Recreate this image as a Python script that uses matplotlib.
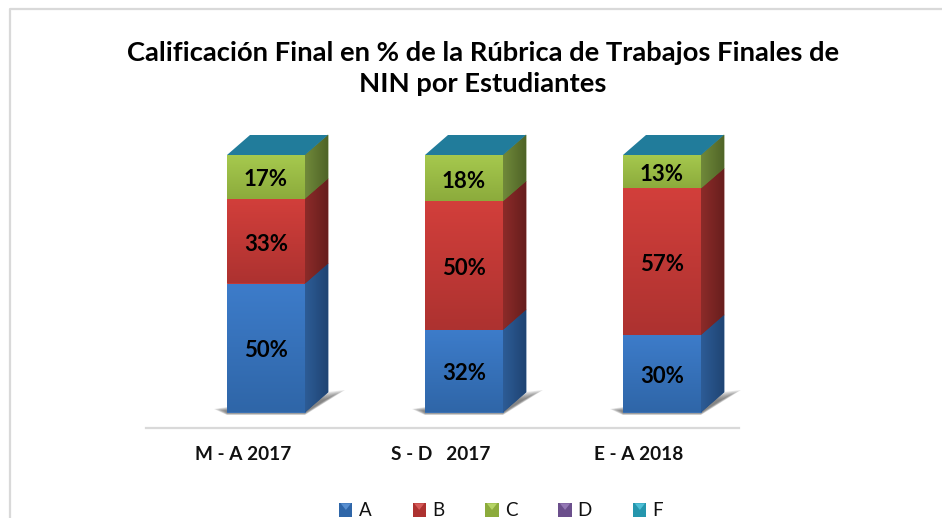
import numpy as np
import matplotlib
matplotlib.use("Agg")
import matplotlib.pyplot as plt
from matplotlib.patches import Polygon, Rectangle
from matplotlib.legend_handler import HandlerPatch
from matplotlib.colors import to_rgb

plt.rcParams['font.family'] = ['Lato', 'DejaVu Sans']

categories = ["M - A 2017", "S - D   2017", "E - A 2018"]
series_names = ["A", "B", "C", "D", "F"]
val_a = [50, 32, 30]
val_b = [33, 50, 57]
val_c = [17, 18, 13]
val_d = [0, 0, 0]
val_f = [0, 0, 0]
title = "Calificación Final en % de la Rúbrica de Trabajos Finales de\nNIN por Estudiantes"

front_top = ["#3d7cca", "#d23f3b", "#a6c94e", "#8064a2", "#31b6d0"]
front_bot = ["#2f66a8", "#ad3230", "#8cab3c", "#6b4f8c", "#2596ad"]
side_light = ["#2d5c96", "#8c2b29", "#70893a", "#594378", "#1f7f93"]
side_dark = ["#1f4473", "#671e1d", "#4f6427", "#3c2c55", "#145866"]
top_color = "#217c9b"

W, H = 942, 518
fig = plt.figure(figsize=(W/100, H/100), dpi=100)
ax = fig.add_axes([0, 0, 1, 1])

px_x, x0 = 198.0, 266.0
px_y, y0 = 2.57, 412.0
ax.set_xlim((0-x0)/px_x, (W-x0)/px_x)
ax.set_ylim((y0-H)/px_y, y0/px_y)
ax.axis('off')

bw = 78/px_x
dx = 23/px_x
dy = 20/px_y


def grad_fill(poly, c0, c1, ext, direction='v', z=2):
    n = 64
    t = np.linspace(0, 1, n)
    a, b = np.array(to_rgb(c0)), np.array(to_rgb(c1))
    g = a[None, :] + (b-a)[None, :]*t[:, None]
    img = g[:, None, :] if direction == 'v' else g[None, :, :]
    ax.add_patch(Polygon(poly, closed=True, fc=tuple((a+b)/2), ec=tuple((a+b)/2), lw=0.6, zorder=z-0.1))
    im = ax.imshow(img, extent=ext, origin='upper', aspect='auto', zorder=z,
                   interpolation='bilinear')
    p = Polygon(poly, closed=True, transform=ax.transData, fc='none', ec='none')
    ax.add_patch(p)
    im.set_clip_path(p)


# frame
fx = lambda p: (p-x0)/px_x
fy = lambda p: (y0-p)/px_y
ax.plot([fx(10), fx(10), fx(941)], [fy(518), fy(9.5), fy(9.5)], color="#d9d9d9", lw=1.6, zorder=1)
# category axis
ax.plot([fx(146), fx(739)], [fy(428), fy(428)], color="#d9d9d9", lw=1.6, zorder=1)

series = [val_a, val_b, val_c]
for i, cat in enumerate(categories):
    l, r = i-bw/2, i+bw/2
    # soft shadow, built up from growing wedges
    for k in range(1, 9):
        e = k/8
        pts = [(l-13*e/px_x, (1+2*e)/px_y), (l, (-0.5-2.5*e)/px_y), (r, (-0.5-2.5*e)/px_y),
               (r+(23+17*e)/px_x, (14+8*e)/px_y), (r+dx, (12+8*e)/px_y)]
        ax.add_patch(Polygon(pts, closed=True, fc="#555555", ec='none', alpha=0.14, zorder=1.5))
    base = 0
    for s, vals in enumerate(series):
        v = vals[i]
        top = base+v
        grad_fill([(l, base), (r, base), (r, top), (l, top)],
                  front_top[s], front_bot[s], (l, r, base, top))
        grad_fill([(r, base), (r+dx, base+dy), (r+dx, top+dy), (r, top)],
                  side_light[s], side_dark[s], (r, r+dx, base, top+dy), 'h')
        ax.text(i, base+v/2-3/px_y, f"{v}%", ha='center', va='center', fontsize=16,
                fontweight='bold', color='black', zorder=5)
        base = top
    ax.add_patch(Polygon([(l, base), (r, base), (r+dx, base+dy), (l+dx, base+dy)],
                         closed=True, fc=top_color, ec='none', zorder=3))
    ax.text(i+fx(243)-fx(266), fy(454), cat, ha='center', va='center', fontsize=13.7,
            fontweight='bold', color='#111111', zorder=5)

ax.text(fx(483), fy(68.5), title, ha='center', va='center', fontsize=19.7, fontweight='bold',
        color='black', linespacing=1.37, zorder=5)


class Swatch(HandlerPatch):
    def create_artists(self, legend, orig, xd, yd, w, h, fs, trans):
        c = orig.get_facecolor()
        s = 9.5
        x, y = (w-s)/2, (h-s)/2
        base = Rectangle((x, y), s, s, fc=c, ec='none', transform=trans)
        lt = np.clip(np.array(c[:3])+0.16, 0, 1)
        tri = Polygon([(x+1, y+s), (x+s-1, y+s), (x+s/2, y+s/2)], closed=True, fc=lt, ec='none', transform=trans)
        return [base, tri]


handles = [Rectangle((0, 0), 1, 1, fc=front_bot[k], label=series_names[k]) for k in range(5)]
leg = ax.legend(handles=handles, ncol=5, loc='center', bbox_to_anchor=(501/W, 1-511/H),
                frameon=False, fontsize=13.5, handler_map={Rectangle: Swatch()},
                handlelength=0.75, handleheight=0.7, handletextpad=0.3, columnspacing=2.18, borderpad=0)
for t in leg.get_texts():
    t.set_color('#111111')

fig.savefig("out.png", dpi=100, facecolor='white')
